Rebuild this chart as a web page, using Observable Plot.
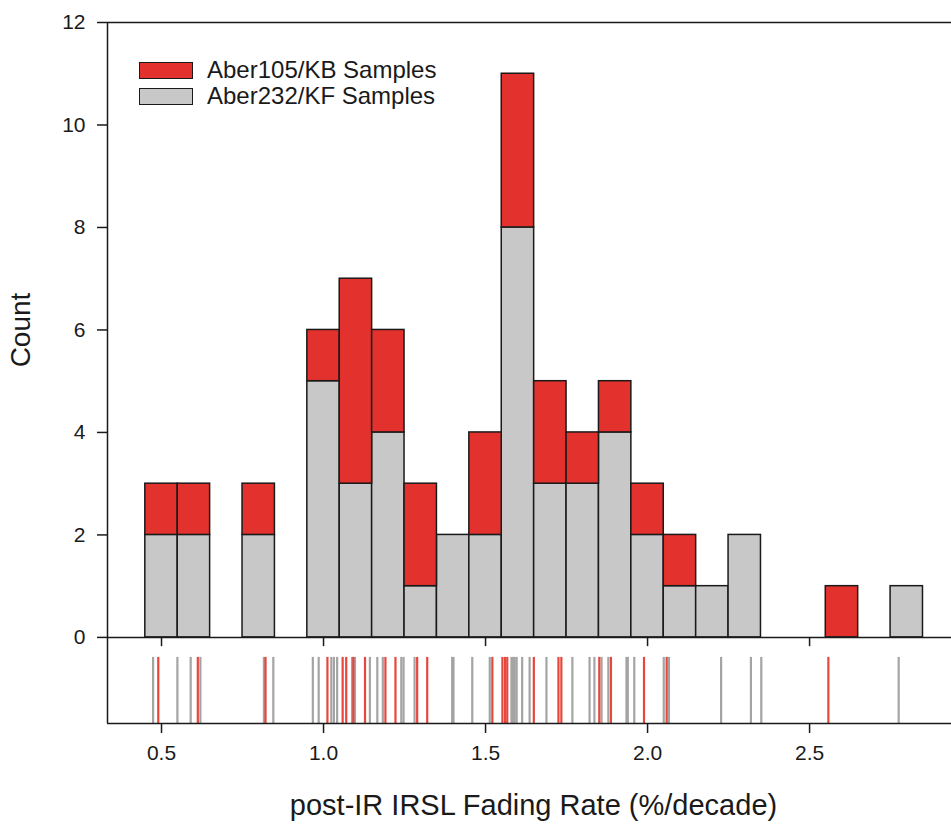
<!DOCTYPE html>
<html>
<head>
<meta charset="utf-8">
<script src="https://cdn.jsdelivr.net/npm/d3@7"></script>
<script src="https://cdn.jsdelivr.net/npm/@observablehq/plot@0.6"></script>
<style>
  html, body { margin: 0; padding: 0; background: #fff; }
  #wrap { position: relative; width: 951px; height: 826px; font-family: "Liberation Sans", Arial, sans-serif; }
  #wrap svg [aria-label$="tick label"], #wrap svg [aria-label$="tick label"] text { font-size: 21px !important; }
  .legend { position: absolute; left: 139px; top: 57px; color: #1a1a1a; font-size: 24px; line-height: 26px; }
  .legend .row { display: flex; align-items: center; height: 26px; }
  .legend .sw { width: 52px; height: 15px; border: 1.5px solid #1a1a1a; margin-right: 14px; box-sizing: content-box; }
</style>
</head>
<body>
<div id="wrap"></div>
<script>
// Histogram bins (left edges, width 0.1 %/decade)
const binStart = [0.45, 0.55, 0.65, 0.75, 0.85, 0.95, 1.05, 1.15, 1.25, 1.35, 1.45, 1.55,
                  1.65, 1.75, 1.85, 1.95, 2.05, 2.15, 2.25, 2.35, 2.45, 2.55, 2.65, 2.75];
const binWidth = 0.1;
// Counts per bin for each sample group (stacked: KF below, KB on top)
const kfCounts = [2, 2, 0, 2, 0, 5, 3, 4, 1, 2, 2, 8, 3, 3, 4, 2, 1, 1, 2, 0, 0, 0, 0, 1];
const kbCounts = [1, 1, 0, 1, 0, 1, 4, 2, 2, 0, 2, 3, 2, 1, 1, 1, 1, 0, 0, 0, 0, 1, 0, 0];

// Individual fading rates shown in the rug strip
const kfRates = [0.474, 0.549, 0.590, 0.620, 0.816, 0.845, 0.967, 0.985, 1.024, 1.032, 1.042,
                 1.088, 1.097, 1.143, 1.166, 1.183, 1.240, 1.247, 1.281, 1.397, 1.401, 1.459,
                 1.513, 1.580, 1.585, 1.590, 1.596, 1.613, 1.636, 1.688, 1.768, 1.821, 1.836,
                 1.858, 1.879, 1.935, 1.939, 1.959, 2.050, 2.066, 2.227, 2.319, 2.351, 2.775];
const kbRates = [0.490, 0.612, 0.821, 1.012, 1.059, 1.070, 1.092, 1.128, 1.191, 1.222, 1.289,
                 1.320, 1.521, 1.552, 1.560, 1.567, 1.649, 1.725, 1.734, 1.851, 1.887, 1.989,
                 2.059, 2.558];

// Axis ticks
const xTicks = [0.5, 1.0, 1.5, 2.0, 2.5];
const yTicks = [0, 2, 4, 6, 8, 10, 12];

const seriesNames = ["Aber105/KB Samples", "Aber232/KF Samples"];
const colors = { kb: "#e3312d", kf: "#c8c8c8", kbRug: "#e8453c", kfRug: "#a4a4a4", ink: "#1a1a1a" };

const bins = binStart.map((x0, i) => ({ x0, x1: x0 + binWidth, kf: kfCounts[i], kb: kbCounts[i] }));

// y extends below zero to host the rug strip underneath the histogram
const yMin = -1.68, yMax = 12;
const rugTop = -0.39;
const xDomain = [0.3333, 2.938];

const chart = Plot.plot({
  width: 951,
  height: 826,
  marginLeft: 107,
  marginRight: 0,
  marginTop: 22,
  marginBottom: 103,
  style: { fontFamily: '"Liberation Sans", Arial, sans-serif', fontSize: "21px", color: colors.ink, background: "#fff" },
  x: { domain: xDomain },
  y: { domain: [yMin, yMax] },
  marks: [
    // stacked histogram
    Plot.rectY(bins.filter(d => d.kf > 0), {
      x1: "x0", x2: "x1", y1: 0, y2: "kf",
      fill: colors.kf, stroke: colors.ink, strokeWidth: 1.5
    }),
    Plot.rectY(bins.filter(d => d.kb > 0), {
      x1: "x0", x2: "x1", y1: "kf", y2: d => d.kf + d.kb,
      fill: colors.kb, stroke: colors.ink, strokeWidth: 1.5
    }),
    // rug strip
    Plot.ruleX(kfRates, { x: d => d, y1: rugTop, y2: yMin, stroke: colors.kfRug, strokeWidth: 2.2 }),
    Plot.ruleX(kbRates, { x: d => d, y1: rugTop, y2: yMin, stroke: colors.kbRug, strokeWidth: 2.2 }),
    // panel lines
    Plot.ruleY([yMax], { stroke: colors.ink, strokeWidth: 1.5 }),
    Plot.ruleY([0], { stroke: colors.ink, strokeWidth: 1.5 }),
    Plot.ruleY([yMin], { stroke: colors.ink, strokeWidth: 1.5 }),
    Plot.ruleX([xDomain[0]], { stroke: colors.ink, strokeWidth: 1.5 }),
    // ticks under the histogram baseline
    Plot.ruleX(xTicks, { x: d => d, y1: 0, y2: -0.18, stroke: colors.ink, strokeWidth: 1.5 }),
    // axes
    Plot.axisY({ ticks: yTicks, tickSize: 10, tickPadding: 12, fontSize: 21, label: null, strokeWidth: 1.5 }),
    Plot.axisX({ ticks: xTicks, tickFormat: d3.format(".1f"), tickSize: 10, tickPadding: 12,
                 fontSize: 21, label: null, strokeWidth: 1.5 }),
    // axis titles
    Plot.text(["post-IR IRSL Fading Rate (%/decade)"], {
      text: d => d, frameAnchor: "bottom", dy: 82, dx: 4, fontSize: 29, lineAnchor: "middle", textAnchor: "middle"
    }),
    Plot.text(["Count"], {
      text: d => d, frameAnchor: "left", dx: -86, dy: -43, rotate: -90, fontSize: 28,
      lineAnchor: "middle", textAnchor: "middle"
    })
  ]
});

const wrap = document.getElementById("wrap");
wrap.appendChild(chart);

// legend
const legend = document.createElement("div");
legend.className = "legend";
[[seriesNames[0], colors.kb], [seriesNames[1], colors.kf]].forEach(([name, c]) => {
  const row = document.createElement("div");
  row.className = "row";
  const sw = document.createElement("span");
  sw.className = "sw";
  sw.style.background = c;
  const label = document.createElement("span");
  label.textContent = name;
  row.appendChild(sw);
  row.appendChild(label);
  legend.appendChild(row);
});
wrap.appendChild(legend);
</script>
</body>
</html>
